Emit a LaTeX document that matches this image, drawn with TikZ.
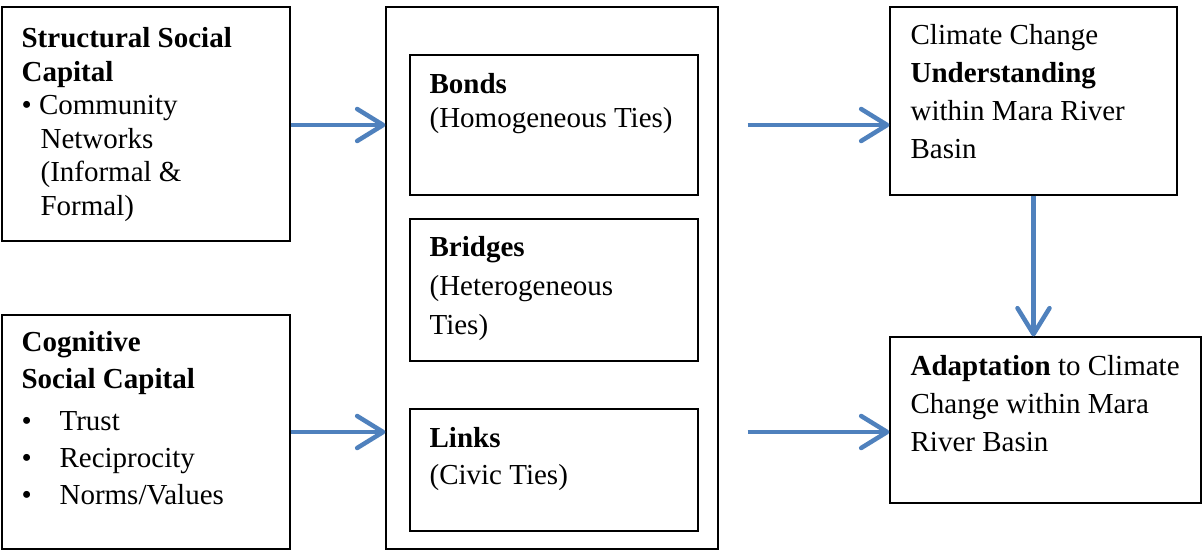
\documentclass[tikz,border=0pt]{standalone}
\usepackage{fontspec}
\setmainfont{Liberation Serif}
\usetikzlibrary{arrows.meta,positioning}
\definecolor{arrowblue}{HTML}{4F81BD}

\begin{document}
\begin{tikzpicture}[
  x=1pt, y=-1pt,
  box/.style={draw, line width=1.2pt, inner sep=0pt},
  txt/.style={align=left, inner sep=0pt, font=\fontsize{29}{34}\selectfont},
  arr/.style={-{Straight Barb[length=26pt,width=32pt,round]}, line width=4.5pt, draw=arrowblue}
]
\useasboundingbox (0,0) rectangle (1203,552);
% boxes
\node[box, minimum width=288pt, minimum height=234pt] (struct) at (146,124) {};
\node[box, minimum width=288pt, minimum height=234pt] (cogn) at (146,432) {};
\node[box, minimum width=332pt, minimum height=542pt] (mid) at (552,278) {};
\node[box, minimum width=288pt, minimum height=140pt] (bonds) at (554,125) {};
\node[box, minimum width=288pt, minimum height=142pt] (bridges) at (554,290) {};
\node[box, minimum width=288pt, minimum height=122pt] (links) at (554,470) {};
\node[box, minimum width=287pt, minimum height=188pt] (underst) at (1033.5,101) {};
\node[box, minimum width=311pt, minimum height=166pt] (adapt) at (1045.5,420) {};
% texts
\node[txt, font=\fontsize{29}{33.5}\selectfont, below right=21pt and 20pt of struct.north west] (structtxt)
  {\textbf{Structural Social}\\ \textbf{Capital}\\ \textbullet\ Community\\ \hspace*{19pt}Networks\\
   \hspace*{19pt}(Informal \&\\ \hspace*{19pt}Formal)};
\node[txt, font=\fontsize{29}{37}\selectfont, below right=17pt and 20pt of cogn.north west] (cogntxt)
  {\textbf{Cognitive}\\ \textbf{Social Capital}\\[5pt] \makebox[38pt][l]{\textbullet}Trust\\
   \makebox[38pt][l]{\textbullet}Reciprocity\\ \makebox[38pt][l]{\textbullet}Norms/Values};
\node[txt, below right=19pt and 20pt of bonds.north west] (bondstxt)
  {\textbf{Bonds}\\ (Homogeneous Ties)};
\node[txt, font=\fontsize{29}{39}\selectfont, below right=18pt and 20pt of bridges.north west] (bridgestxt)
  {\textbf{Bridges}\\ (Heterogeneous\\ Ties)};
\node[txt, font=\fontsize{29}{37}\selectfont, below right=19pt and 20pt of links.north west] (linkstxt)
  {\textbf{Links}\\ (Civic Ties)};
\node[txt, font=\fontsize{29}{38}\selectfont, below right=18pt and 21pt of underst.north west] (ersttxt)
  {Climate Change\\ \textbf{Understanding}\\ within Mara River\\ Basin};
\node[txt, font=\fontsize{29}{38}\selectfont, below right=19pt and 21pt of adapt.north west] (adapttxt)
  {\textbf{Adaptation} to Climate\\ Change within Mara\\ River Basin};
% arrows
\draw[arr] (struct.east |- bonds) -- (mid.west |- bonds);
\draw[arr] (cogn.east) -- (cogn -| mid.west);
\draw[arr] ([xshift=29pt]mid.east |- bonds) -- (bonds -| underst.west);
\draw[arr] ([xshift=29pt]mid.east |- cogn) -- (cogn -| adapt.west);
\draw[arr] (underst.south) -- (underst |- adapt.north);
\end{tikzpicture}
\end{document}
